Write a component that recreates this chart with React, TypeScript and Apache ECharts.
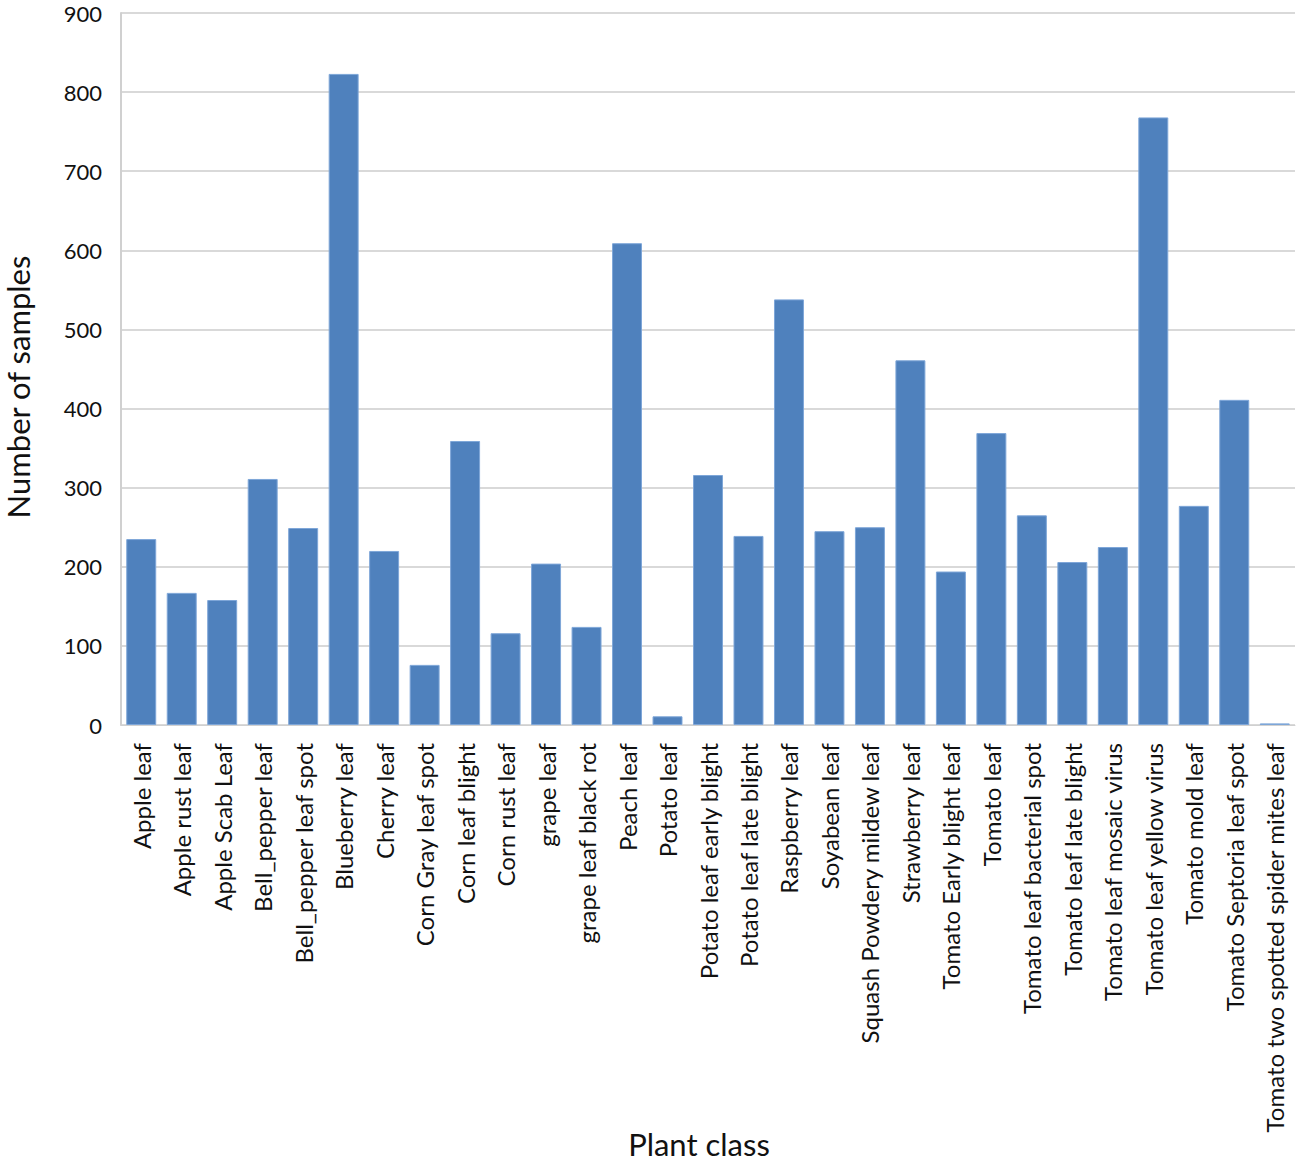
import React, { useEffect, useRef } from "react";
import * as echarts from "echarts";

const categories = [
  "Apple leaf", "Apple rust leaf", "Apple Scab Leaf", "Bell_pepper leaf", "Bell_pepper leaf spot",
  "Blueberry leaf", "Cherry leaf", "Corn Gray leaf spot", "Corn leaf blight", "Corn rust leaf",
  "grape leaf", "grape leaf black rot", "Peach leaf", "Potato leaf", "Potato leaf early blight",
  "Potato leaf late blight", "Raspberry leaf", "Soyabean leaf", "Squash Powdery mildew leaf", "Strawberry leaf",
  "Tomato Early blight leaf", "Tomato leaf", "Tomato leaf bacterial spot", "Tomato leaf late blight", "Tomato leaf mosaic virus",
  "Tomato leaf yellow virus", "Tomato mold leaf", "Tomato Septoria leaf spot", "Tomato two spotted spider mites leaf",
];
const samples = [
  235, 167, 158, 311, 249,
  823, 220, 76, 359, 116,
  204, 124, 609, 11, 316,
  239, 538, 245, 250, 461,
  194, 369, 265, 206, 225,
  768, 277, 411, 2,
];
const yTicks = { min: 0, max: 900, interval: 100 };
const xTitle = "Plant class";
const yTitle = "Number of samples";

export default function App() {
  const ref = useRef<HTMLDivElement>(null);
  useEffect(() => {
    const chart = echarts.init(ref.current!, undefined, { renderer: "svg" });
    const font = "Lato, 'Open Sans', sans-serif";
    chart.setOption({
      animation: false,
      backgroundColor: "#ffffff",
      grid: {
        left: 121, top: 13, width: 1174, height: 712,
        containLabel: false, outerBoundsMode: "none",
      },
      graphic: [
        {
          type: "text",
          x: 18,
          y: 387,
          rotation: Math.PI / 2,
          style: {
            text: yTitle, fontSize: 31, fill: "#111", fontFamily: font,
            align: "center", verticalAlign: "middle",
          },
        },
        {
          type: "text",
          x: 699,
          y: 1144,
          style: {
            text: xTitle, fontSize: 31, fill: "#111", fontFamily: font,
            align: "center", verticalAlign: "middle",
          },
        },
      ],
      xAxis: {
        type: "category",
        data: categories,
        axisLine: { show: true, lineStyle: { color: "#d0d0d0", width: 1 } },
        axisTick: { show: false },
        axisLabel: {
          rotate: 90,
          interval: 0,
          margin: 18,
          fontSize: 24,
          color: "#111",
          fontFamily: font,
        },
      },
      yAxis: {
        type: "value",
        min: yTicks.min,
        max: yTicks.max,
        interval: yTicks.interval,
        axisLine: { show: true, lineStyle: { color: "#d0d0d0", width: 2 } },
        axisTick: { show: false },
        axisLabel: { fontSize: 22, color: "#111", margin: 19, fontFamily: font },
        splitLine: { show: true, lineStyle: { color: "#d9d9d9", width: 2 } },
      },
      series: [
        {
          type: "bar",
          data: samples,
          barCategoryGap: "26%",
          itemStyle: { color: "#4f81bd", borderColor: "#7ea6d8", borderWidth: 1 },
        },
      ],
    });
    return () => chart.dispose();
  }, []);
  return (
    <div
      ref={ref}
      style={{ position: "fixed", left: 0, top: 0, width: 1299, height: 1172 }}
    />
  );
}
